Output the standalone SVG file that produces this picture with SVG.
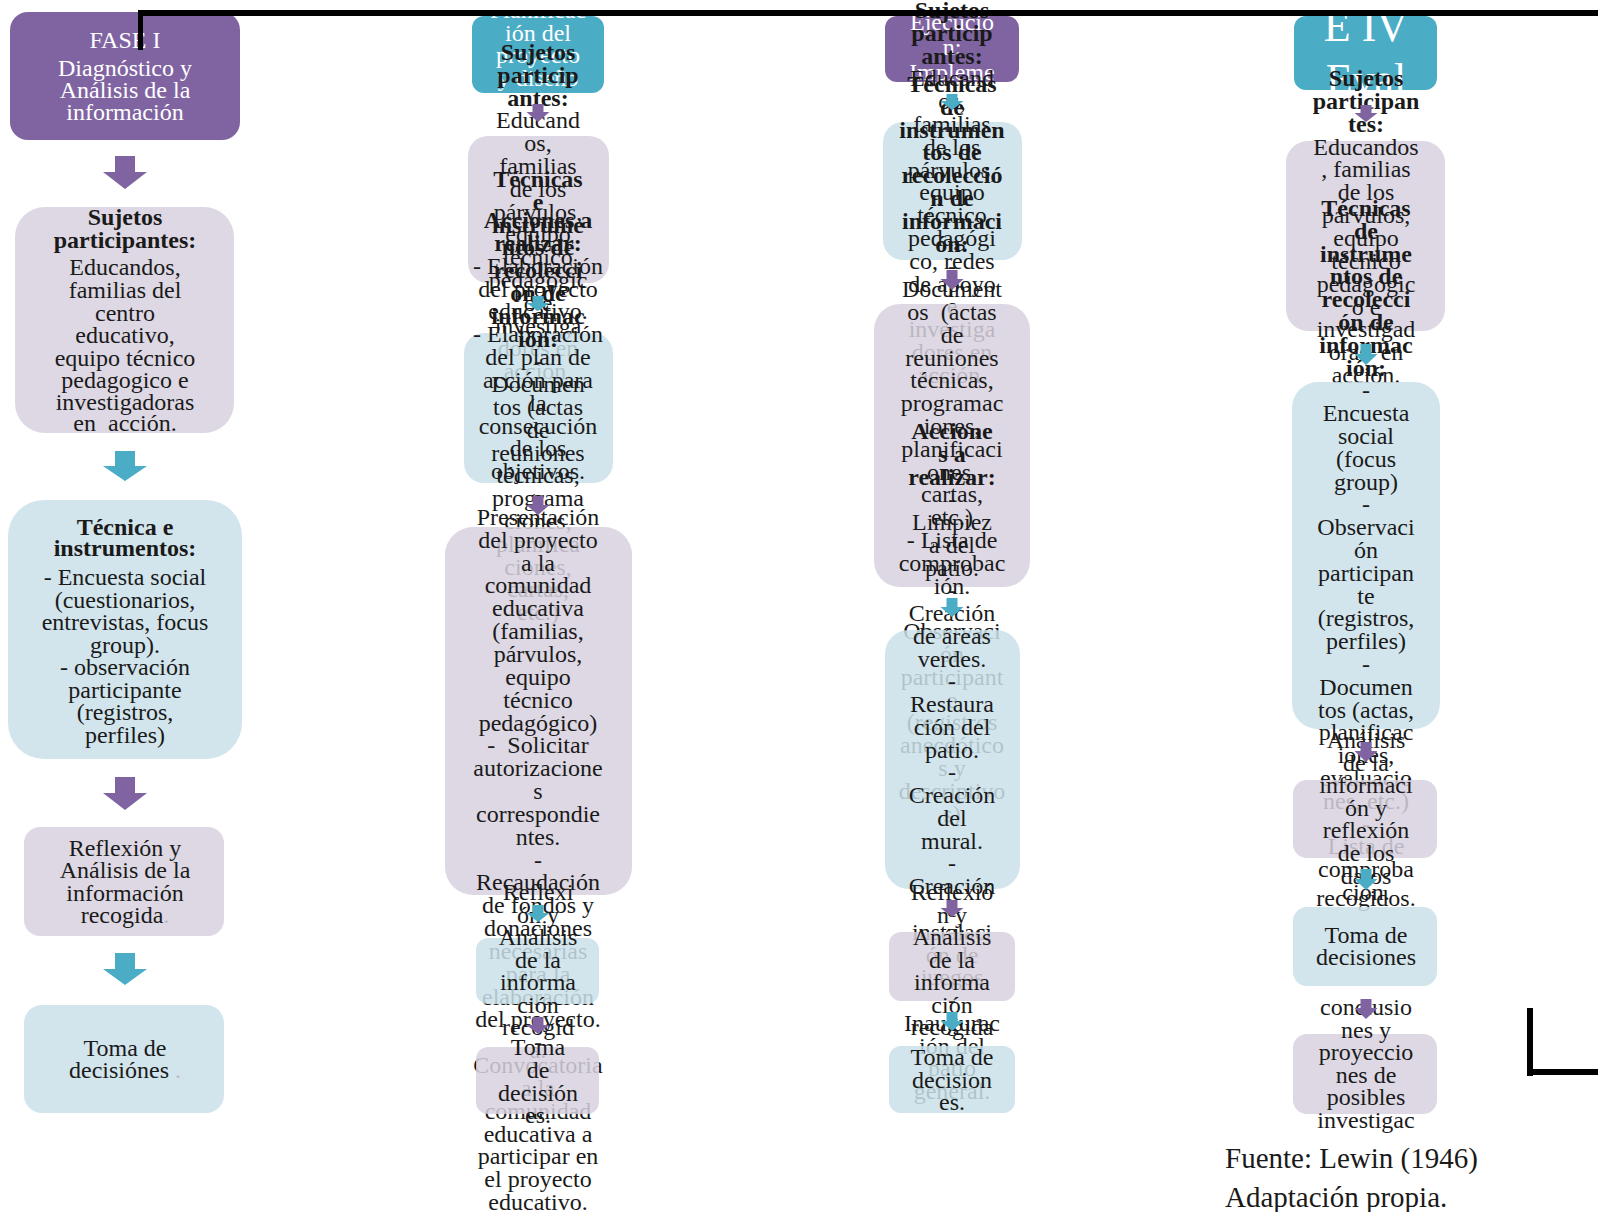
<svg xmlns="http://www.w3.org/2000/svg" width="1598" height="1212" viewBox="0 0 1598 1212">
<style>
.t{font-family:"Liberation Serif","Times New Roman",serif;font-size:24px;fill:#1a1a1a;text-anchor:middle}
.w{fill:#ffffff}
.b{font-weight:bold}
.f{fill:#bbbbbb}
.lav{fill:#D7D1DE;fill-opacity:0.85}
.blu{fill:#CAE0E9;fill-opacity:0.85}
.pur{fill:#8064A2}
.teal{fill:#4BACC6}
.ap{fill:#8064A2}
.at{fill:#4BACC6}
.k{fill:#000}
</style>
<rect width="1598" height="1212" fill="#ffffff"/>

<!-- Column 1 -->
<g id="c1-fase">
<rect class="pur" x="10" y="12" width="230" height="128" rx="18"/>
<text class="t w"><tspan x="125" y="48">FASE I</tspan><tspan x="125" y="76">Diagnóstico y</tspan><tspan x="125" y="98">Análisis de la</tspan><tspan x="125" y="120">información</tspan></text>
</g>
<g id="c1-sujetos">
<rect class="lav" x="15" y="207" width="219" height="226" rx="30"/>
<text class="t"><tspan class="b" x="125" y="225">Sujetos</tspan><tspan class="b" x="125" y="248">participantes:</tspan><tspan x="125" y="275">Educandos,</tspan><tspan x="125" y="298">familias del</tspan><tspan x="125" y="321">centro</tspan><tspan x="125" y="343">educativo,</tspan><tspan x="125" y="366">equipo técnico</tspan><tspan x="125" y="388">pedagogico e</tspan><tspan x="125" y="410">investigadoras</tspan><tspan x="125" y="431">en&#160; acción.</tspan></text>
</g>
<g id="c1-tecnica">
<rect class="blu" x="8" y="500" width="234" height="259" rx="36"/>
<text class="t"><tspan class="b" x="125" y="535">Técnica e</tspan><tspan class="b" x="125" y="556">instrumentos:</tspan><tspan x="125" y="585">- Encuesta social</tspan><tspan x="125" y="608">(cuestionarios,</tspan><tspan x="125" y="630">entrevistas, focus</tspan><tspan x="125" y="653">group).</tspan><tspan x="125" y="675">- observación</tspan><tspan x="125" y="698">participante</tspan><tspan x="125" y="720">(registros,</tspan><tspan x="125" y="743">perfiles)</tspan></text>
</g>
<g id="c1-reflexion">
<rect class="lav" x="24" y="827" width="200" height="109" rx="16"/>
<text class="t"><tspan x="125" y="856">Reflexión y</tspan><tspan x="125" y="878">Análisis de la</tspan><tspan x="125" y="901">información</tspan><tspan x="125" y="923">recogida<tspan class="f">.</tspan></tspan></text>
</g>
<g id="c1-toma">
<rect class="blu" x="24" y="1005" width="200" height="108" rx="18"/>
<text class="t"><tspan x="125" y="1056">Toma de</tspan><tspan x="125" y="1078">decisiónes<tspan class="f"> .</tspan></tspan></text>
</g>

<!-- Column 2 -->
<g id="c2-fase">
<rect class="teal" x="472" y="16" width="132" height="77" rx="12"/>
<text class="t w"><tspan x="538" y="18">Planificac</tspan><tspan x="538" y="41">ión del</tspan><tspan x="538" y="63">proyecto</tspan><tspan x="538" y="86">y diseño</tspan></text>
</g>
<g id="c2-sujetos">
<rect class="lav" x="468" y="136" width="141" height="147" rx="20"/>
<text class="t"><tspan class="b" x="538" y="60">Sujetos</tspan><tspan class="b" x="538" y="82.8">particip</tspan><tspan class="b" x="538" y="105.6">antes:</tspan><tspan x="538" y="128.4">Educand</tspan><tspan x="538" y="151.2">os,</tspan><tspan x="538" y="174">familias</tspan><tspan x="538" y="196.8">de los</tspan><tspan x="538" y="219.6">párvulos,</tspan><tspan x="538" y="242.4">equipo</tspan><tspan x="538" y="265.2">técnico</tspan><tspan x="538" y="288">pedagógic</tspan><tspan x="538" y="310.8">o e</tspan><tspan x="538" y="333.6">investiga</tspan><tspan x="538" y="356.4">dores en</tspan><tspan x="538" y="379.2">acción.</tspan></text>
</g>
<g id="c2-tecnicas">
<rect class="blu" x="464" y="333" width="149" height="150" rx="20"/>
<text class="t"><tspan class="b" x="538" y="187">Técnicas</tspan><tspan class="b" x="538" y="209.8">e</tspan><tspan class="b" x="538" y="232.6">instrume</tspan><tspan class="b" x="538" y="255.4">ntos de</tspan><tspan class="b" x="538" y="278.2">recolecci</tspan><tspan class="b" x="538" y="301">ón de</tspan><tspan class="b" x="538" y="323.8">informac</tspan><tspan class="b" x="538" y="346.6">ión:</tspan><tspan x="538" y="369.4">-</tspan><tspan x="538" y="392.2">Documen</tspan><tspan x="538" y="415">tos (actas</tspan><tspan x="538" y="437.8">de</tspan><tspan x="538" y="460.6">reuniones</tspan><tspan x="538" y="483.4">técnicas,</tspan><tspan x="538" y="506.2">programa</tspan><tspan x="538" y="529">ciones,</tspan><tspan x="538" y="551.8">planifica</tspan><tspan x="538" y="574.6">ciones,</tspan><tspan x="538" y="597.4">cartas,</tspan><tspan x="538" y="620.2">etc.)</tspan></text>
</g>
<g id="c2-acciones">
<rect class="lav" x="445" y="527" width="187" height="368" rx="28"/>
<text class="t"><tspan class="b" x="538" y="228">Acciones a</tspan><tspan class="b" x="538" y="250.8">realizar:</tspan><tspan x="538" y="273.7">- Elaboración</tspan><tspan x="538" y="296.5">del proyecto</tspan><tspan x="538" y="319.4">educativo.</tspan><tspan x="538" y="342.2">- Elaboración</tspan><tspan x="538" y="365">del plan de</tspan><tspan x="538" y="387.9">acción para</tspan><tspan x="538" y="410.7">la</tspan><tspan x="538" y="433.6">consecución</tspan><tspan x="538" y="456.4">de los</tspan><tspan x="538" y="479.2">objetivos.</tspan><tspan x="538" y="502.1">-</tspan><tspan x="538" y="524.9">Presentación</tspan><tspan x="538" y="547.8">del proyecto</tspan><tspan x="538" y="570.6">a la</tspan><tspan x="538" y="593.4">comunidad</tspan><tspan x="538" y="616.3">educativa</tspan><tspan x="538" y="639.1">(familias,</tspan><tspan x="538" y="662">párvulos,</tspan><tspan x="538" y="684.8">equipo</tspan><tspan x="538" y="707.6">técnico</tspan><tspan x="538" y="730.5">pedagógico)</tspan><tspan x="538" y="753.3">-&#160; Solicitar</tspan><tspan x="538" y="776.2">autorizacione</tspan><tspan x="538" y="799">s</tspan><tspan x="538" y="821.8">correspondie</tspan><tspan x="538" y="844.7">ntes.</tspan><tspan x="538" y="867.5">-</tspan><tspan x="538" y="890.4">Recaudación</tspan><tspan x="538" y="913.2">de fondos y</tspan><tspan x="538" y="936">donaciones</tspan><tspan x="538" y="958.9">necesarias</tspan><tspan x="538" y="981.7">para la</tspan><tspan x="538" y="1004.6">elaboración</tspan><tspan x="538" y="1027.4">del proyecto.</tspan><tspan x="538" y="1050.2">-</tspan><tspan x="538" y="1073.1">Convocatoria</tspan><tspan x="538" y="1095.9">a la</tspan><tspan x="538" y="1118.8">comunidad</tspan><tspan x="538" y="1141.6">educativa a</tspan><tspan x="538" y="1164.4">participar en</tspan><tspan x="538" y="1187.3">el proyecto</tspan><tspan x="538" y="1210.1">educativo.</tspan></text>
</g>
<g id="c2-reflexion">
<rect class="blu" x="476" y="938" width="123" height="66" rx="12"/>
<text class="t"><tspan x="538" y="900">Reflexi</tspan><tspan x="538" y="922.5">ón y</tspan><tspan x="538" y="945">Análisis</tspan><tspan x="538" y="967.5">de la</tspan><tspan x="538" y="990">informa</tspan><tspan x="538" y="1012.5">ción</tspan><tspan x="538" y="1035">recogid</tspan><tspan x="538" y="1057.5">a.</tspan></text>
</g>
<g id="c2-toma">
<rect class="lav" x="476" y="1047" width="123" height="67" rx="12"/>
<text class="t"><tspan x="538" y="1055">Toma</tspan><tspan x="538" y="1077.8">de</tspan><tspan x="538" y="1100.6">decisión</tspan><tspan x="538" y="1123.4">es.</tspan></text>
</g>

<!-- Column 3 -->
<g id="c3-fase">
<rect class="pur" x="885" y="16" width="134" height="66" rx="12"/>
<text class="t w"><tspan x="952" y="30">Ejecució</tspan><tspan x="952" y="55">n:</tspan><tspan x="952" y="80">Impleme</tspan></text>
</g>
<g id="c3-sujetos">
<rect class="blu" x="883" y="122" width="139" height="138" rx="20"/>
<text class="t"><tspan class="b" x="952" y="18">Sujetos</tspan><tspan class="b" x="952" y="40.8">particip</tspan><tspan class="b" x="952" y="63.6">antes:</tspan><tspan x="952" y="86.4">Educand</tspan><tspan x="952" y="109.2">os,</tspan><tspan x="952" y="132">familias</tspan><tspan x="952" y="154.8">de los</tspan><tspan x="952" y="177.6">párvulos,</tspan><tspan x="952" y="200.4">equipo</tspan><tspan x="952" y="223.2">técnico</tspan><tspan x="952" y="246">pedagógi</tspan><tspan x="952" y="268.8">co, redes</tspan><tspan x="952" y="291.6">de apoyo</tspan><tspan x="952" y="314.4">e</tspan><tspan x="952" y="337.2">investiga</tspan><tspan x="952" y="360">dores en</tspan><tspan x="952" y="382.8">acción.</tspan></text>
</g>
<g id="c3-tecnicas">
<rect class="lav" x="874" y="304" width="156" height="283" rx="26"/>
<text class="t"><tspan class="b" x="952" y="92">Técnicas</tspan><tspan class="b" x="952" y="114.8">de</tspan><tspan class="b" x="952" y="137.6">instrumen</tspan><tspan class="b" x="952" y="160.4">tos de</tspan><tspan class="b" x="952" y="183.2">recolecció</tspan><tspan class="b" x="952" y="206">n de</tspan><tspan class="b" x="952" y="228.8">informaci</tspan><tspan class="b" x="952" y="251.6">ón:</tspan><tspan x="952" y="274.4">-</tspan><tspan x="952" y="297.2">Document</tspan><tspan x="952" y="320">os&#160; (actas</tspan><tspan x="952" y="342.8">de</tspan><tspan x="952" y="365.6">reuniones</tspan><tspan x="952" y="388.4">técnicas,</tspan><tspan x="952" y="411.2">programac</tspan><tspan x="952" y="434">iones,</tspan><tspan x="952" y="456.8">planificaci</tspan><tspan x="952" y="479.6">ones,</tspan><tspan x="952" y="502.4">cartas,</tspan><tspan x="952" y="525.2">etc.)</tspan><tspan x="952" y="548">- Lista de</tspan><tspan x="952" y="570.8">comprobac</tspan><tspan x="952" y="593.6">ión.</tspan><tspan x="952" y="616.4">-</tspan><tspan x="952" y="639.2">Observaci</tspan><tspan x="952" y="662">ón</tspan><tspan x="952" y="684.8">participant</tspan><tspan x="952" y="707.6">e</tspan><tspan x="952" y="730.4">(registros</tspan><tspan x="952" y="753.2">anecdótico</tspan><tspan x="952" y="776">s y</tspan><tspan x="952" y="798.8">descriptivo</tspan><tspan x="952" y="821.6">s)</tspan></text>
</g>
<g id="c3-acciones">
<rect class="blu" x="885" y="630" width="135" height="259" rx="24"/>
<text class="t"><tspan class="b" x="952" y="439">Accione</tspan><tspan class="b" x="952" y="461.8">s a</tspan><tspan class="b" x="952" y="484.5">realizar:</tspan><tspan x="952" y="507.3">-</tspan><tspan x="952" y="530">Limpiez</tspan><tspan x="952" y="552.8">a del</tspan><tspan x="952" y="575.6">patio.</tspan><tspan x="952" y="598.3">-</tspan><tspan x="952" y="621.1">Creación</tspan><tspan x="952" y="643.8">de áreas</tspan><tspan x="952" y="666.6">verdes.</tspan><tspan x="952" y="689.4">-</tspan><tspan x="952" y="712.1">Restaura</tspan><tspan x="952" y="734.9">ción del</tspan><tspan x="952" y="757.6">patio.</tspan><tspan x="952" y="780.4">-</tspan><tspan x="952" y="803.2">Creación</tspan><tspan x="952" y="825.9">del</tspan><tspan x="952" y="848.7">mural.</tspan><tspan x="952" y="871.4">-</tspan><tspan x="952" y="894.2">Creación</tspan><tspan x="952" y="917">e</tspan><tspan x="952" y="939.7">instalaci</tspan><tspan x="952" y="962.5">ón de</tspan><tspan x="952" y="985.2">juegos</tspan><tspan x="952" y="1008">-</tspan><tspan x="952" y="1030.8">Inaugurac</tspan><tspan x="952" y="1053.5">ión del</tspan><tspan x="952" y="1076.3">patio</tspan><tspan x="952" y="1099">general.</tspan></text>
</g>
<g id="c3-reflexion">
<rect class="lav" x="889" y="932" width="126" height="69" rx="12"/>
<text class="t"><tspan x="952" y="900">Reflexió</tspan><tspan x="952" y="922.5">n y</tspan><tspan x="952" y="945">Análisis</tspan><tspan x="952" y="967.5">de la</tspan><tspan x="952" y="990">informa</tspan><tspan x="952" y="1012.5">ción</tspan><tspan x="952" y="1035">recogida</tspan></text>
</g>
<g id="c3-toma">
<rect class="blu" x="889" y="1046" width="126" height="67" rx="12"/>
<text class="t"><tspan x="952" y="1065">Toma de</tspan><tspan x="952" y="1087.5">decision</tspan><tspan x="952" y="1110">es.</tspan></text>
</g>

<!-- Column 4 -->
<g id="c4-fase">
<rect class="teal" x="1294" y="16" width="143" height="74" rx="12"/>
<text class="t w" style="font-size:44px"><tspan x="1366" y="41">E IV</tspan><tspan x="1366" y="94">Eval</tspan></text>
</g>
<g id="c4-sujetos">
<rect class="lav" x="1286" y="141" width="159" height="190" rx="22"/>
<text class="t"><tspan class="b" x="1366" y="86">Sujetos</tspan><tspan class="b" x="1366" y="108.9">participan</tspan><tspan class="b" x="1366" y="131.7">tes:</tspan><tspan x="1366" y="154.6">Educandos</tspan><tspan x="1366" y="177.4">, familias</tspan><tspan x="1366" y="200.3">de los</tspan><tspan x="1366" y="223.1">párvulos,</tspan><tspan x="1366" y="246">equipo</tspan><tspan x="1366" y="268.8">técnico</tspan><tspan x="1366" y="291.7">pedagogic</tspan><tspan x="1366" y="314.5">o e</tspan><tspan x="1366" y="337.4">investigad</tspan><tspan x="1366" y="360.2">oras&#160; en</tspan><tspan x="1366" y="383.1">acción.</tspan></text>
</g>
<g id="c4-tecnicas">
<rect class="blu" x="1292" y="382" width="148" height="347" rx="26"/>
<text class="t"><tspan class="b" x="1366" y="216">Técnicas</tspan><tspan class="b" x="1366" y="238.8">de</tspan><tspan class="b" x="1366" y="261.6">instrume</tspan><tspan class="b" x="1366" y="284.4">ntos de</tspan><tspan class="b" x="1366" y="307.2">recolecci</tspan><tspan class="b" x="1366" y="330">ón de</tspan><tspan class="b" x="1366" y="352.8">informac</tspan><tspan class="b" x="1366" y="375.6">ión:</tspan><tspan x="1366" y="398.4">-</tspan><tspan x="1366" y="421.2">Encuesta</tspan><tspan x="1366" y="444">social</tspan><tspan x="1366" y="466.8">(focus</tspan><tspan x="1366" y="489.6">group)</tspan><tspan x="1366" y="512.4">-</tspan><tspan x="1366" y="535.2">Observaci</tspan><tspan x="1366" y="558">ón</tspan><tspan x="1366" y="580.8">participan</tspan><tspan x="1366" y="603.6">te</tspan><tspan x="1366" y="626.4">(registros,</tspan><tspan x="1366" y="649.2">perfiles)</tspan><tspan x="1366" y="672">-</tspan><tspan x="1366" y="694.8">Documen</tspan><tspan x="1366" y="717.6">tos (actas,</tspan><tspan x="1366" y="740.4">planificac</tspan><tspan x="1366" y="763.2">iones,</tspan><tspan x="1366" y="786">evaluacio</tspan><tspan x="1366" y="808.8">nes, etc.)</tspan><tspan x="1366" y="831.6">-</tspan><tspan x="1366" y="854.4">Lista de</tspan><tspan x="1366" y="877.2">comproba</tspan><tspan x="1366" y="900">ción.</tspan></text>
</g>
<g id="c4-analisis">
<rect class="lav" x="1293" y="780" width="144" height="78" rx="14"/>
<text class="t"><tspan x="1366" y="748">Análisis</tspan><tspan x="1366" y="770.6">de la</tspan><tspan x="1366" y="793.2">informaci</tspan><tspan x="1366" y="815.8">ón y</tspan><tspan x="1366" y="838.4">reflexión</tspan><tspan x="1366" y="861">de los</tspan><tspan x="1366" y="883.6">datos</tspan><tspan x="1366" y="906.2">recogidos.</tspan></text>
</g>
<g id="c4-toma">
<rect class="blu" x="1293" y="907" width="144" height="79" rx="14"/>
<text class="t"><tspan x="1366" y="943">Toma de</tspan><tspan x="1366" y="965">decisiones</tspan></text>
</g>
<g id="c4-conclusiones">
<rect class="lav" x="1293" y="1034" width="144" height="80" rx="14"/>
<text class="t"><tspan x="1366" y="1015">conclusio</tspan><tspan x="1366" y="1037.5">nes y</tspan><tspan x="1366" y="1060">proyeccio</tspan><tspan x="1366" y="1082.5">nes de</tspan><tspan x="1366" y="1105">posibles</tspan><tspan x="1366" y="1127.5">investigac</tspan></text>
</g>

<g id="fuente">
<text class="t" style="font-size:29px;text-anchor:start"><tspan x="1225" y="1168">Fuente: Lewin (1946)</tspan><tspan x="1225" y="1207">Adaptación propia.</tspan></text>
</g>

<g id="frame-lines">
<rect class="k" x="138" y="10" width="1460" height="6"/>
<rect class="k" x="138" y="10" width="5" height="40"/>
<rect class="k" x="1527" y="1008" width="6" height="68"/>
<rect class="k" x="1527" y="1069" width="71" height="6"/>
</g>

<g id="connectors">
<polygon class="ap" points="115,156 135,156 135,172 147,172 125,189 103,172 115,172"/>
<polygon class="at" points="115,451 135,451 135,466 147,466 125,481 103,466 115,466"/>
<polygon class="ap" points="115,777 135,777 135,793 147,793 125,810 103,793 115,793"/>
<polygon class="at" points="115,953 135,953 135,969 147,969 125,985 103,969 115,969"/>

<polygon class="ap" points="532.5,104 543.5,104 543.5,112 549.5,112 538,122 526.5,112 532.5,112"/>
<polygon class="at" points="532.5,296 543.5,296 543.5,303 549.5,303 538,311 526.5,303 532.5,303"/>
<polygon class="ap" points="532.5,496 543.5,496 543.5,505 549.5,505 538,515 526.5,505 532.5,505"/>
<polygon class="at" points="532.5,905 543.5,905 543.5,913 549.5,913 538,922 526.5,913 532.5,913"/>
<polygon class="ap" points="532.5,1017 543.5,1017 543.5,1025 549.5,1025 538,1034 526.5,1025 532.5,1025"/>

<polygon class="at" points="946.5,94 957.5,94 957.5,101 963.5,101 952,110 940.5,101 946.5,101"/>
<polygon class="ap" points="946.5,270 957.5,270 957.5,279 963.5,279 952,290 940.5,279 946.5,279"/>
<polygon class="at" points="946.5,598 957.5,598 957.5,607 963.5,607 952,617 940.5,607 946.5,607"/>
<polygon class="ap" points="946.5,900 957.5,900 957.5,908 963.5,908 952,917 940.5,908 946.5,908"/>
<polygon class="at" points="946.5,1012 957.5,1012 957.5,1021 963.5,1021 952,1031 940.5,1021 946.5,1021"/>

<polygon class="ap" points="1360.5,105 1371.5,105 1371.5,113 1377.5,113 1366,122 1354.5,113 1360.5,113"/>
<polygon class="at" points="1360.5,344 1371.5,344 1371.5,354 1377.5,354 1366,365 1354.5,354 1360.5,354"/>
<polygon class="ap" points="1360.5,742 1371.5,742 1371.5,751 1377.5,751 1366,762 1354.5,751 1360.5,751"/>
<polygon class="at" points="1360.5,869 1371.5,869 1371.5,879 1377.5,879 1366,890 1354.5,879 1360.5,879"/>
<polygon class="ap" points="1360.5,999 1371.5,999 1371.5,1008 1377.5,1008 1366,1019 1354.5,1008 1360.5,1008"/>
</g>
</svg>
